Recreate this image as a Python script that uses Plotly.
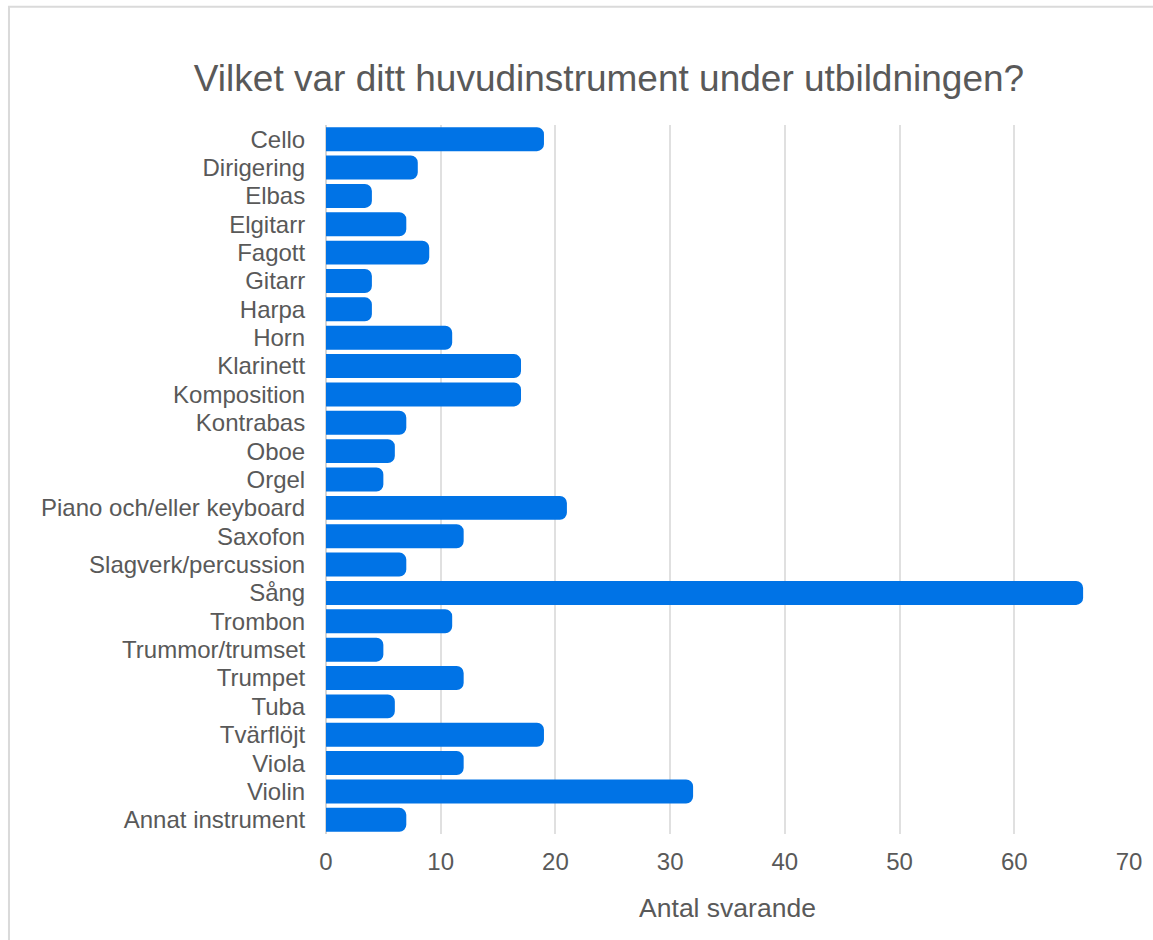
import plotly.graph_objects as go

instruments = ["Cello", "Dirigering", "Elbas", "Elgitarr", "Fagott", "Gitarr", "Harpa", "Horn",
               "Klarinett", "Komposition", "Kontrabas", "Oboe", "Orgel", "Piano och/eller keyboard",
               "Saxofon", "Slagverk/percussion", "Sång", "Trombon", "Trummor/trumset", "Trumpet",
               "Tuba", "Tvärflöjt", "Viola", "Violin", "Annat instrument"]
antal = [19, 8, 4, 7, 9, 4, 4, 11, 17, 17, 7, 6, 5, 21, 12, 7, 66, 11, 5, 12, 6, 19, 12, 32, 7]
x_ticks = [0, 10, 20, 30, 40, 50, 60, 70]

text_color = "#595959"
font_family = "Liberation Sans, Arial, sans-serif"

W, H = 1153, 940

fig = go.Figure()
fig.add_trace(go.Bar(x=antal, y=instruments, orientation="h",
                     marker=dict(color="#0073E6", line=dict(width=0), cornerradius=7)))

fig.update_xaxes(range=[0, 70], tickvals=x_ticks, showgrid=True, gridcolor="#e0e0e0", gridwidth=1.5,
                 zeroline=True, zerolinecolor="#d6d6d6", zerolinewidth=1.5,
                 ticks="outside", ticklen=6, tickcolor="rgba(0,0,0,0)",
                 tickfont=dict(size=24, color=text_color),
                 title=dict(text="Antal svarande", font=dict(size=26.5, color=text_color), standoff=24))
fig.update_yaxes(autorange="reversed", showgrid=False, tickmode="linear", dtick=1,
                 ticks="outside", ticklen=15,
                 tickcolor="rgba(0,0,0,0)", tickfont=dict(size=24, color=text_color))

# light frame round the whole chart
fig.add_shape(type="rect", xref="paper", yref="paper",
              x0=-0.3948, x1=1.05, y0=-0.18, y1=1.1669,
              line=dict(color="#dadada", width=2), fillcolor="rgba(0,0,0,0)", layer="below")

fig.update_layout(width=W,
                  height=H,
                  margin=dict(l=326, r=24, t=125, b=106),
                  bargap=0.155,
                  showlegend=False,
                  font=dict(family=font_family, color=text_color),
                  title=dict(text="Vilket var ditt huvudinstrument under utbildningen?",
                             font=dict(size=37, color=text_color),
                             x=609 / W, xanchor="center", y=1 - 78 / H, yanchor="middle",
                             xref="container", yref="container"),
                  plot_bgcolor="white",
                  paper_bgcolor="white")

fig.write_html("out.html", config={"displayModeBar": False},
               post_script="document.body.style.margin='0';")
